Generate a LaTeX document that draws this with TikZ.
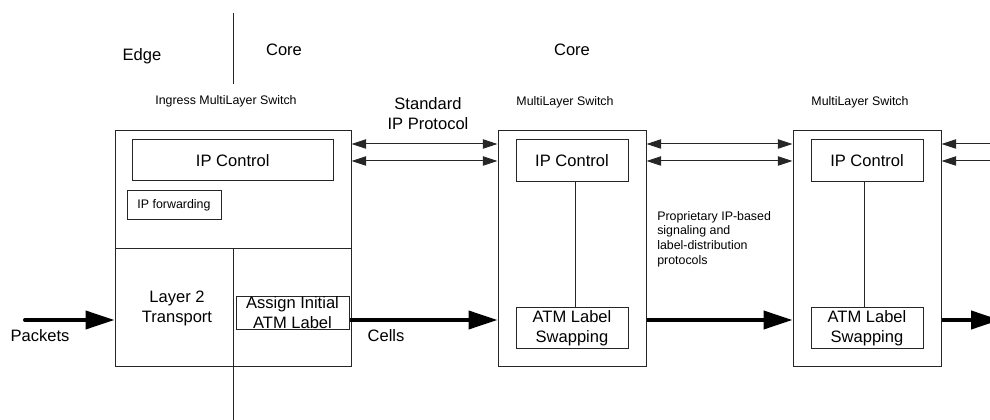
\documentclass[tikz,border=0pt]{standalone}
\usepackage{fontspec}
\setmainfont{Liberation Sans}
\usetikzlibrary{arrows.meta}
\begin{document}
\begin{tikzpicture}[x=0.75pt,y=-0.75pt,
  line/.style={draw=black!85,line width=0.75pt},
  box/.style={line,inner sep=0pt,align=center,font=\fontsize{12.4}{15}\selectfont},
  bigtxt/.style={inner sep=0pt,align=center,font=\fontsize{12.4}{15}\selectfont},
  smalltxt/.style={inner sep=0pt,align=center,font=\fontsize{9.3}{11}\selectfont},
  thin2/.style={line,{Triangle[length=11pt,width=7pt]}-{Triangle[length=11pt,width=7pt]}},
  thinL/.style={line,{Triangle[length=11pt,width=7pt]}-},
  thick/.style={draw=black,line width=3pt,-{Triangle[length=21.75pt,width=13.5pt]}}
]
\useasboundingbox (0,0) rectangle (990,420);
\clip (0,0) rectangle (990,420);

% region labels
\coordinate (vt) at (233,13);
\coordinate (vb) at (233,84);
\draw[line] (vt) -- (vb);
\node[bigtxt] (edge) at (142,56) {Edge};
\node[bigtxt] (core1) at (284,50) {Core};
\node[bigtxt] (core2) at (572,50) {Core};

% switch titles
\node[smalltxt] (t1) at (226,101) {Ingress MultiLayer Switch};
\node[smalltxt] (t2) at (565,102) {MultiLayer Switch};
\node[smalltxt] (t3) at (860,102) {MultiLayer Switch};

% ingress switch
\node[line,minimum width=177pt,minimum height=177pt,inner sep=0pt] (ing) at (233,249) {};
\node[box,minimum width=150.4pt,minimum height=30.75pt] (ipc1) at (232.75,160.5) {IP Control};
\node[box,minimum width=70.5pt,minimum height=21.75pt,font=\fontsize{9.3}{11}\selectfont] (ipf) at (174,205.5) {IP forwarding};
\draw[line] (ing.west |- 0,249) coordinate (hl) -- (ing.east |- 0,249) coordinate (hr);
\coordinate (vm) at (233,249);
\coordinate (vbot) at (233,420);
\draw[line] (vm) -- (vbot);
\node[bigtxt] (l2) at (177,308) {Layer 2\\Transport};
\node[box,minimum width=84.75pt,minimum height=24pt] (assign) at (292.5,313) {Assign Initial\\ATM Label};

% switch 2
\node[line,minimum width=111pt,minimum height=177pt,inner sep=0pt] (sw2) at (572,249) {};
\node[box,minimum width=84pt,minimum height=31.5pt] (ipc2) at (572,161) {IP Control};
\node[box,minimum width=84pt,minimum height=30.75pt] (atm2) at (572,328.5) {ATM Label\\Swapping};
\draw[line] ([xshift=2.6pt]ipc2.south) -- ([xshift=2.6pt]atm2.north);

% switch 3
\node[line,minimum width=111pt,minimum height=177pt,inner sep=0pt] (sw3) at (867,249) {};
\node[box,minimum width=84pt,minimum height=31.5pt] (ipc3) at (867,161) {IP Control};
\node[box,minimum width=84pt,minimum height=30.75pt] (atm3) at (867,328.5) {ATM Label\\Swapping};
\draw[line] ([xshift=-2.2pt]ipc3.south) -- ([xshift=-2.2pt]atm3.north);

% protocol arrows
\draw[thin2] (ing.east |- 0,144) -- (sw2.west |- 0,144);
\draw[thin2] (ing.east |- 0,161) -- (sw2.west |- 0,161);
\draw[thin2] (sw2.east |- 0,144) -- (sw3.west |- 0,144);
\draw[thin2] (sw2.east |- 0,161) -- (sw3.west |- 0,161);
\coordinate (r1) at (995,144);
\coordinate (r2) at (995,161);
\draw[thinL] (sw3.east |- r1) -- (r1);
\draw[thinL] (sw3.east |- r2) -- (r2);

% data path
\coordinate (pin) at (25,320);
\draw[thick,line cap=round] (pin) -- (ing.west |- pin);
\draw[thick] (assign.east |- 0,320) -- (sw2.west |- 0,320);
\draw[thick] (sw2.east |- 0,320) -- (sw3.west |- 0,320);
\coordinate (rout) at (1000,320);
\draw[thick] (sw3.east |- rout) -- (rout);

\node[bigtxt] (packets) at (40,336) {Packets};
\node[bigtxt] (cells) at (386,336) {Cells};
\node[bigtxt] (std) at (428,114) {Standard\\IP Protocol};
\node[smalltxt,align=left,anchor=west] (prop) at (657,239) {Proprietary IP-based\\signaling and\\label-distribution\\protocols};
\end{tikzpicture}
\end{document}
